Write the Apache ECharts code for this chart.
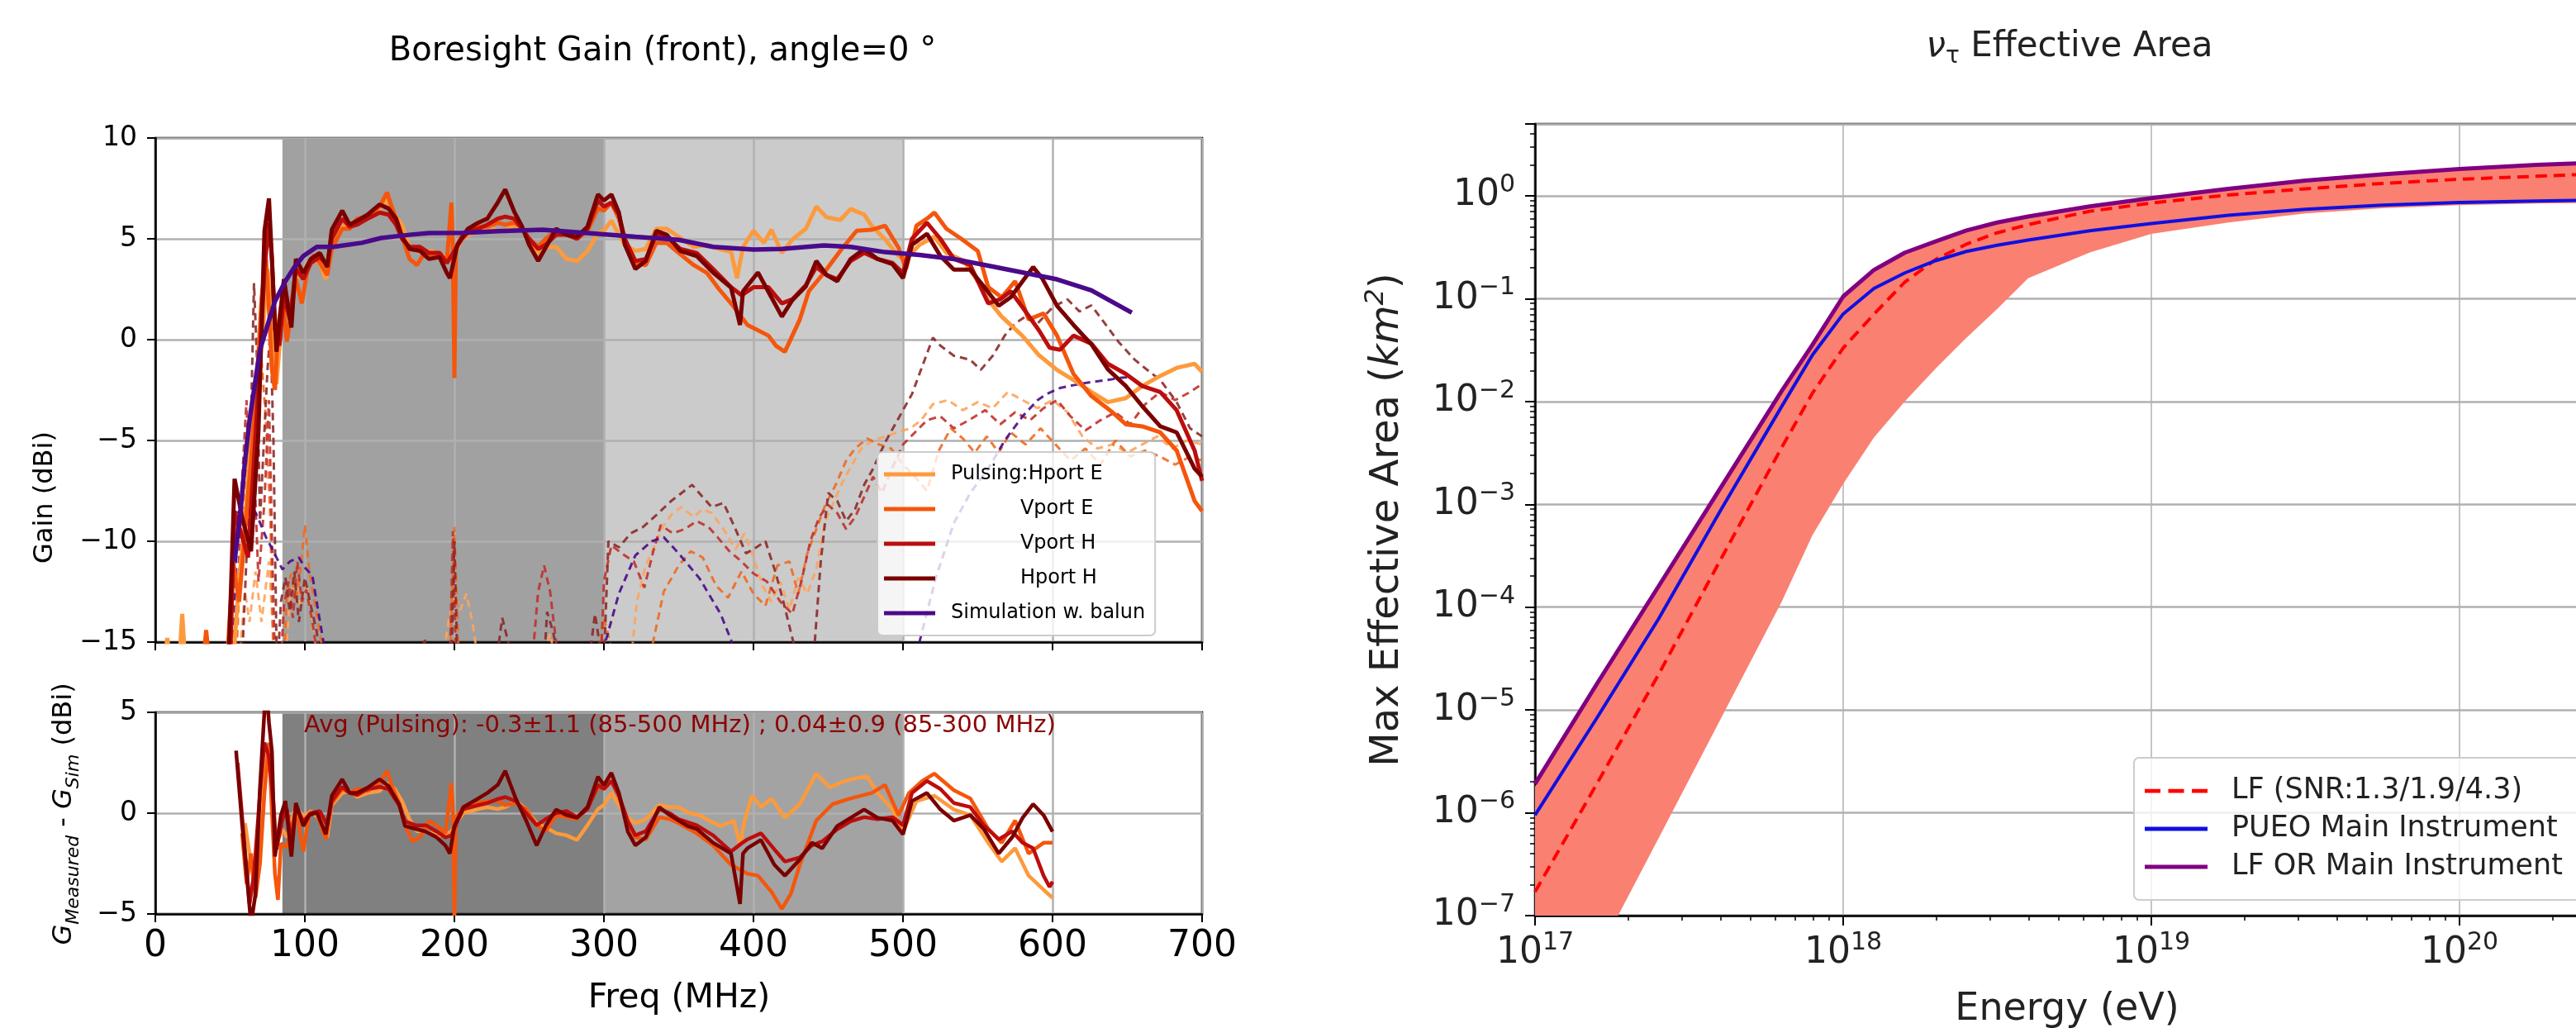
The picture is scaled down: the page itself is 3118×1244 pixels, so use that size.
<!DOCTYPE html>
<html lang="en">
<head>
<meta charset="UTF-8">
<title>Boresight gain / effective area</title>
<script src="https://cdn.jsdelivr.net/npm/echarts@6.0.0/dist/echarts.min.js"></script>
<style>
    html, body { margin: 0; padding: 0; background: #fff; }
    #main { width: 3118px; height: 1244px; }
</style>
</head>
<body>
<div id="main"></div>
<script>
// ---------- left figure: boresight gain, points are [freq MHz, gain dBi] ----------
var hportE = [[6,-16],[8,-14.8],[10,-16],[16,-16],[18,-13.6],[20,-16],[52,-16],[56,-12],[60,-9],[64,-5],[68,-2.5],[72,0.5],[75,3.5],[77,2.0],[79,-0.5],[81,-2.2],[84,0.5],[87,1.5],[90,1.0],[94,3.0],[99,3.4],[104,4.0],[110,3.8],[114,3.0],[118,4.6],[125,5.6],[130,5.6],[135,5.8],[142,6.0],[150,6.5],[156,6.9],[160,6.2],[165,5.7],[170,4.6],[175,4.4],[180,4.3],[185,4.4],[190,4.2],[195,4.1],[200,4.2],[205,5.0],[210,5.2],[216,5.4],[222,5.6],[229,5.4],[234,5.4],[240,5.7],[245,5.5],[250,4.9],[256,4.3],[261,4.6],[268,4.6],[275,4.0],[282,3.9],[289,4.4],[296,5.3],[300,5.4],[305,5.9],[310,5.2],[314,4.7],[321,4.4],[328,4.5],[335,5.5],[342,5.5],[350,5.1],[360,4.6],[369,4.7],[377,4.5],[385,4.36],[389,3.05],[393,4.6],[400,5.4],[407,4.8],[412,5.45],[419,4.3],[426,4.97],[435,5.5],[442,6.6],[449,6.07],[458,5.93],[465,6.48],[474,6.2],[479,5.65],[488,4.97],[497,4.15],[502,4.0],[511,4.7],[521,5.1],[529,4.3],[541,3.9],[550,2.9],[557,1.96],[566,1.14],[580,0.18],[591,-0.78],[603,-1.5],[614,-2.0],[626,-2.6],[637,-3.1],[649,-2.9],[660,-2.3],[672,-1.8],[683,-1.4],[695,-1.2],[700,-1.6]];
var vportE = [[32,-16],[34,-14.4],[36,-16],[48,-16],[52,-11],[56,-13],[60,-9.5],[64,-6],[68,-2],[71,2],[74,4],[76,1.5],[78,-1.5],[80,-2.5],[82,0.5],[85,2.2],[88,-0.1],[91,1.5],[94,3.0],[98,1.8],[102,3.6],[106,4.2],[110,3.8],[115,3.2],[118,4.5],[125,5.5],[130,5.5],[135,6.0],[142,6.1],[150,6.6],[155,7.3],[158,6.6],[162,5.8],[166,4.9],[170,4.0],[175,3.7],[180,4.3],[185,4.2],[190,4.3],[195,3.9],[198,6.8],[199,4.5],[200,-1.9],[201,4.5],[205,5.2],[210,5.5],[216,5.6],[222,5.6],[229,5.8],[234,5.7],[240,5.8],[245,5.6],[250,5.0],[256,4.6],[261,5.0],[268,5.4],[275,5.3],[282,5.0],[289,5.4],[296,6.5],[300,6.4],[305,6.8],[310,6.0],[314,4.9],[321,3.8],[328,3.7],[335,4.8],[342,4.8],[350,4.3],[360,3.7],[369,3.3],[377,2.5],[385,1.8],[396,0.73],[410,0.2],[415,-0.3],[421,-0.6],[426,0.2],[431,1.0],[437,2.4],[447,3.3],[458,4.4],[469,5.4],[479,5.45],[488,5.65],[497,4.56],[502,3.5],[509,5.65],[516,6.0],[521,6.3],[529,5.5],[539,5.0],[550,4.4],[557,2.6],[566,2.1],[575,2.9],[584,1.0],[594,1.3],[603,0.2],[614,-1.7],[626,-2.8],[640,-3.6],[649,-4.2],[660,-4.3],[672,-4.6],[683,-5.5],[695,-8.0],[700,-8.5]];
var vportH = [[50,-16],[53,-8.5],[57,-9.5],[62,-10.8],[66,-6],[70,-1],[73,3.5],[76,5.8],[78,4.0],[80,0.5],[83,-0.3],[86,2.2],[90,1.0],[94,3.5],[99,3.0],[104,3.8],[110,4.1],[115,3.7],[118,5.0],[125,6.0],[130,5.6],[135,5.7],[142,6.0],[150,6.3],[156,6.2],[161,5.7],[165,5.0],[170,4.6],[177,4.6],[183,4.3],[190,4.3],[195,3.8],[200,4.4],[205,5.0],[210,5.4],[216,5.5],[222,5.7],[229,6.0],[234,6.1],[240,6.0],[245,5.5],[250,5.0],[256,4.5],[261,4.7],[268,5.2],[275,5.2],[282,5.0],[289,5.5],[296,6.9],[300,6.6],[305,6.8],[310,6.2],[314,5.0],[321,3.9],[328,4.0],[335,5.2],[342,5.1],[351,4.5],[362,4.3],[373,3.5],[385,2.6],[392,2.2],[400,2.6],[410,2.6],[419,1.8],[426,2.0],[435,2.7],[442,3.6],[449,3.2],[456,3.0],[465,3.9],[474,4.3],[483,4.0],[493,3.8],[500,3.3],[506,5.0],[516,5.8],[525,5.0],[534,4.0],[545,3.7],[557,1.8],[565,2.0],[572,2.4],[580,1.6],[591,0.45],[598,-0.4],[605,-0.5],[614,0.2],[626,-0.2],[637,-1.2],[649,-1.7],[660,-2.3],[672,-2.6],[683,-3.5],[695,-5.5],[700,-7.0]];
var hportH = [[49,-16],[53,-6.9],[58,-8.8],[64,-10.5],[69,-4.5],[73,5.4],[76,7.0],[79,2.4],[81,-0.6],[86,3.0],[91,0.6],[94,4.0],[99,3.3],[104,4.0],[110,4.3],[115,3.6],[118,5.45],[125,6.4],[130,5.7],[135,5.9],[142,6.2],[150,6.7],[156,6.5],[161,6.0],[165,5.1],[170,4.5],[177,4.4],[183,4.0],[190,4.1],[195,3.3],[197,3.05],[202,4.7],[209,5.5],[216,5.8],[222,6.0],[229,6.8],[234,7.45],[240,6.35],[245,5.65],[250,4.7],[256,3.9],[261,4.56],[268,5.5],[275,5.2],[282,5.1],[289,5.6],[296,7.2],[300,6.9],[305,7.2],[310,6.3],[314,4.7],[321,3.5],[328,3.9],[335,5.4],[342,5.2],[351,4.4],[362,4.15],[373,3.33],[385,2.58],[391,0.73],[393,2.4],[403,3.33],[412,2.1],[419,1.14],[426,1.96],[435,2.64],[442,3.9],[449,3.2],[456,2.9],[465,4.0],[474,4.5],[483,4.0],[493,3.74],[500,3.05],[506,4.7],[516,5.25],[525,4.15],[534,3.47],[545,3.47],[554,2.64],[564,1.68],[572,2.1],[580,2.9],[587,3.6],[593,3.05],[603,1.68],[614,0.73],[626,-0.23],[637,-1.47],[649,-2.3],[660,-3.3],[672,-4.3],[683,-4.6],[695,-6.4],[700,-6.8]];
var simBalun = [[53,-11],[57,-8.5],[60,-6],[63,-4],[66,-2.5],[70,-0.5],[75,0.7],[80,1.9],[87,2.9],[93,3.6],[99,4.15],[108,4.6],[119,4.6],[138,4.8],[151,5.04],[170,5.2],[183,5.29],[206,5.3],[229,5.38],[259,5.45],[287,5.3],[321,5.1],[350,4.95],[373,4.6],[400,4.47],[419,4.5],[447,4.67],[465,4.6],[488,4.34],[511,4.2],[534,4.0],[557,3.67],[580,3.33],[603,2.99],[626,2.44],[653,1.34]];

// cross-pol (dashed) traces
var xHportE = [[56,-16],[60,-12.5],[63,-14],[67,-11.5],[71,-14],[76,-11],[80,-16],[87,-16],[90,-12.8],[94,-11.8],[97,-13.2],[101,-12],[105,-14.2],[109,-16],[192,-16],[196,-14],[200,-12.6],[204,-13.4],[208,-12.6],[212,-14],[216,-16],[258,-16],[264,-14.6],[268,-16],[318,-16],[322,-13],[328,-11.2],[334,-10.2],[340,-9.2],[346,-8.6],[352,-8.3],[360,-8.8],[366,-8.4],[372,-8.6],[380,-9.4],[388,-10.4],[394,-9.6],[400,-10.8],[406,-12.2],[412,-13.0],[418,-12.0],[424,-13.4],[430,-11.8],[436,-12.6],[442,-11.4],[448,-9.0],[454,-8.0],[460,-7.0],[466,-6.2],[472,-5.4],[480,-5.0],[488,-4.8],[496,-4.6],[505,-4.4],[512,-4.0],[520,-3.2],[530,-3.0],[540,-3.5],[550,-3.1],[560,-3.4],[570,-2.6],[580,-3.0],[590,-3.4],[600,-3.0],[610,-3.6],[620,-4.8],[630,-5.4],[640,-5.2],[650,-5.6],[660,-5.2],[670,-4.8],[680,-5.4],[690,-5.0],[700,-5.2]];
var xVportE = [[54,-16],[57,-11],[60,-7],[63,-4],[65,-10],[68,-5],[71,-1],[74,-4],[77,-9],[79,-16],[86,-16],[88,-12.5],[91,-11.6],[94,-13],[97,-11.5],[100,-9.2],[103,-11.5],[106,-12.8],[110,-14.5],[113,-16],[197,-16],[200,-9.3],[203,-16],[296,-16],[300,-13.8],[304,-15],[306,-16],[330,-16],[340,-12.5],[350,-11.2],[358,-10.5],[366,-10.8],[375,-12.2],[383,-12.8],[392,-11.5],[400,-12.6],[408,-13.2],[416,-11.2],[424,-11.0],[430,-12.6],[436,-10.6],[442,-9.4],[448,-8.2],[455,-7.2],[462,-6.0],[468,-5.4],[476,-4.9],[484,-5.2],[492,-5.4],[500,-6.2],[508,-6.8],[516,-7.5],[524,-5.5],[532,-4.4],[540,-4.9],[548,-5.6],[556,-4.8],[564,-5.6],[572,-4.6],[582,-5.2],[592,-4.4],[602,-5.2],[612,-6.0],[622,-5.4],[632,-6.2],[642,-5.0],[652,-5.8],[662,-5.5],[672,-5.8],[682,-6.2],[692,-5.8],[700,-6.0]];
var xVportH = [[52,-16],[55,-13],[58,-7],[61,-3],[63,-9],[66,-6],[69,-12],[73,-8],[76,-3],[78,-10],[80,-16],[84,-16],[86,-13.2],[89,-12],[92,-13.8],[95,-11],[98,-13],[101,-12.4],[105,-14],[109,-16],[197,-16],[199,-9.5],[201,-16],[252,-16],[256,-12.5],[260,-11.2],[264,-12.5],[268,-15],[270,-16],[298,-16],[300,-12],[305,-10.2],[312,-10.6],[320,-11.0],[327,-12.3],[333,-10.5],[338,-9.2],[346,-9.6],[354,-9.4],[362,-9.0],[370,-9.3],[376,-9.8],[384,-10.5],[392,-11.0],[400,-11.6],[409,-12.0],[418,-13.0],[426,-13.6],[432,-12.0],[438,-10.0],[444,-8.8],[450,-8.2],[456,-8.6],[462,-9.4],[468,-8.8],[474,-7.8],[480,-6.8],[486,-7.6],[492,-6.5],[500,-5.2],[508,-4.6],[516,-4.0],[525,-3.8],[534,-4.4],[544,-4.0],[555,-3.5],[565,-4.2],[575,-3.6],[585,-4.0],[594,-3.4],[603,-3.0],[612,-3.8],[622,-4.5],[632,-4.0],[642,-3.6],[652,-4.2],[662,-3.2],[672,-2.6],[682,-3.0],[692,-2.6],[700,-2.2]];
var xHportH = [[58,-16],[62,-9],[64,-4],[66,2.8],[68,-1],[70,-9],[72,-6],[75,-1.5],[77,0.5],[79,-5],[81,-15],[82,-16],[84,-13],[87,-11.8],[90,-13.5],[93,-11.5],[96,-14],[100,-11.8],[104,-13.2],[108,-14.5],[110,-16],[178,-16],[180,-14.8],[182,-16],[198,-16],[200,-10],[202,-16],[228,-16],[232,-13.8],[236,-15],[240,-16],[260,-16],[262,-13.5],[266,-14.5],[270,-16],[290,-16],[294,-13.6],[298,-15.5],[300,-16],[303,-10],[310,-10.3],[318,-9.6],[326,-9.3],[335,-8.7],[345,-8.0],[352,-7.6],[359,-7.2],[366,-7.8],[372,-8.3],[380,-8.1],[388,-9.4],[395,-10.6],[402,-10.3],[408,-10.0],[415,-11.6],[420,-13],[425,-14.5],[430,-16],[440,-16],[445,-11],[450,-7.6],[456,-8.0],[462,-9.0],[468,-8.4],[474,-7.2],[480,-6.4],[488,-5.1],[497,-3.9],[506,-2.7],[513,-1.3],[520,0.1],[525,-0.3],[534,-0.8],[545,-1.0],[552,-1.5],[560,-0.8],[568,0.2],[575,0.8],[583,1.2],[590,0.8],[600,1.6],[610,2.0],[618,1.4],[626,1.7],[635,0.8],[644,-0.1],[655,-1.0],[665,-1.6],[672,-2.0],[683,-3.1],[692,-4.4],[700,-4.8]];
var xSimBalun = [[52,-16],[55,-8.6],[60,-8.2],[64,-8.1],[69,-8.9],[74,-9.8],[79,-10.5],[85,-11.4],[90,-11.0],[96,-10.8],[100,-11.3],[105,-11.7],[109,-13.5],[112,-14.8],[114,-16],[298,-16],[301,-15],[310,-12.6],[321,-10.7],[332,-10.0],[340,-9.8],[350,-10.6],[364,-11.85],[378,-13.6],[385,-14.9],[388,-16],[508,-16],[511,-15],[522,-11.8],[534,-9.1],[545,-7.6],[557,-6.4],[568,-5.0],[580,-3.8],[590,-3.0],[596,-2.7],[605,-2.4],[614,-2.26],[626,-2.1],[637,-2.0],[645,-1.9],[653,-1.85]];

// lower panel: G_measured - G_sim
var dHportE = [[60,-0.5],[63,-2],[66,-3.5],[69,-1.5],[72,1.5],[75,3.0],[77,2],[79,-0.5],[81,-1.5],[85,-0.8],[88,-1.2],[91,-0.4],[94,0.3],[99,-0.2],[104,0.1],[110,-0.3],[115,-1.2],[118,0.4],[125,1.0],[130,1.1],[135,0.8],[142,1.0],[150,1.1],[156,1.5],[160,1.2],[165,0.6],[170,-0.3],[175,-0.9],[181,-0.9],[188,-1.1],[194,-1.1],[198,-0.9],[202,-0.4],[206,0.0],[216,0.2],[222,0.3],[229,0.2],[234,0.3],[241,0.6],[248,0.2],[255,-0.5],[261,-0.7],[268,-1.0],[275,-1.1],[282,-1.33],[289,-0.6],[296,0.2],[300,0.4],[305,1.0],[310,0.4],[316,-0.2],[321,-0.5],[328,-0.3],[337,0.4],[344,0.3],[350,0.3],[357,0.0],[364,-0.1],[371,-0.4],[378,-0.64],[387,-0.37],[391,-1.6],[394,-0.4],[399,0.86],[405,0.3],[412,0.73],[421,-0.23],[431,0.45],[442,1.96],[451,1.27],[458,1.5],[465,1.68],[476,1.82],[483,1.0],[493,0.18],[500,-0.92],[509,0.6],[521,0.86],[534,0.18],[545,-0.1],[557,-1.47],[566,-2.4],[575,-1.74],[584,-3.1],[594,-3.8],[600,-4.2]];
var dVportE = [[58,-1],[61,-3.5],[64,-2],[67,-4.2],[70,-2.5],[73,1],[76,3.5],[78,0],[80,-3.0],[82,-4.3],[84,-1.5],[88,-1.7],[91,-0.8],[94,0.2],[99,-1.9],[103,0.0],[108,0.0],[114,-1.3],[118,0.5],[125,1.2],[130,1.0],[135,1.2],[142,1.1],[150,1.5],[155,2.1],[158,1.4],[163,0.5],[167,-0.6],[172,-1.4],[177,-1.2],[183,-0.4],[188,-0.6],[194,-1.0],[198,1.5],[199,0.3],[200,-5.5],[201,-0.2],[206,0.3],[216,0.5],[222,0.6],[229,0.6],[234,0.4],[241,0.5],[248,0.2],[255,-0.6],[261,-0.9],[268,-0.1],[275,-0.2],[282,-0.3],[289,0.3],[296,1.3],[300,1.2],[305,1.6],[310,0.8],[316,-0.5],[321,-1.2],[328,-1.3],[337,-0.2],[344,-0.3],[350,-0.5],[362,-1.0],[373,-1.6],[385,-2.56],[396,-3.0],[403,-3.1],[412,-3.9],[419,-4.75],[425,-4.0],[431,-2.56],[442,-0.37],[453,0.45],[465,0.73],[479,1.0],[488,1.4],[497,-0.1],[504,1.0],[513,1.6],[521,1.96],[534,1.14],[545,0.73],[557,-0.78],[566,-1.47],[575,-0.37],[584,-2.0],[594,-1.47],[600,-1.47]];
var dVportH = [[55,2.5],[59,-1],[63,-4.5],[66,-3],[70,1],[73,3.5],[76,2.8],[79,0.5],[81,-1.8],[85,-0.3],[88,0.2],[91,-1.5],[94,0.3],[99,-0.4],[104,0.0],[110,0.1],[115,-0.6],[118,0.6],[125,1.3],[130,1.0],[135,0.9],[142,1.2],[150,1.3],[156,1.2],[163,0.4],[167,-0.4],[174,-0.6],[181,-0.6],[188,-0.9],[194,-1.2],[198,-1.1],[202,-0.4],[206,0.2],[216,0.4],[222,0.5],[229,0.7],[234,0.8],[241,0.6],[248,0.0],[255,-0.6],[261,-0.3],[268,0.0],[275,0.1],[282,-0.2],[289,0.2],[296,1.4],[300,1.2],[305,1.6],[310,0.9],[316,-0.4],[321,-1.1],[328,-0.9],[337,0.2],[344,0.0],[350,-0.3],[362,-0.6],[373,-1.1],[385,-1.9],[392,-1.5],[396,-1.3],[405,-1.0],[414,-1.8],[421,-2.4],[431,-2.2],[439,-1.6],[446,-1.4],[456,-0.8],[465,-0.4],[474,-0.2],[483,-0.3],[493,-0.2],[500,-0.6],[506,1.0],[516,1.6],[525,1.2],[534,0.5],[545,0.3],[554,-0.6],[564,-1.3],[573,-0.9],[580,-1.47],[587,-1.74],[594,-3.1],[598,-3.66],[600,-3.4]];
var dHportH = [[54,3.1],[58,-0.5],[62,-3.8],[64,-5.5],[67,-4],[70,1.3],[73,5.1],[75,5.5],[76,4.5],[78,3.05],[80,-2.15],[84,-0.1],[87,0.6],[91,-2.15],[94,0.5],[99,-0.64],[103,-0.1],[108,0.04],[114,-1.05],[118,0.86],[125,1.68],[130,1.0],[135,1.0],[142,1.27],[150,1.68],[156,1.34],[163,0.45],[167,-0.64],[174,-0.78],[181,-0.92],[188,-1.19],[194,-1.6],[197,-2.0],[200,-0.64],[206,0.3],[216,0.73],[222,1.0],[229,1.4],[234,2.1],[241,0.73],[248,-0.37],[255,-1.6],[261,-0.64],[268,0.18],[275,-0.1],[282,-0.23],[289,0.3],[296,1.8],[300,1.4],[305,2.0],[310,1.0],[316,-0.92],[321,-1.6],[328,-1.2],[337,0.3],[344,-0.1],[350,-0.37],[356,-0.64],[362,-0.78],[373,-1.47],[385,-2.0],[391,-4.5],[393,-2.0],[396,-1.74],[405,-1.33],[414,-2.56],[421,-3.1],[431,-2.3],[439,-1.47],[446,-1.74],[456,-0.64],[465,-0.23],[474,0.18],[483,-0.23],[493,-0.37],[500,-1.05],[506,0.6],[516,1.0],[525,0.18],[534,-0.37],[545,-0.1],[554,-0.78],[564,-2.0],[573,-1.2],[580,-0.23],[587,0.45],[594,-0.1],[600,-0.92]];

var bandsMHz = [[85, 300], [300, 500]];
var legendLeft = ['Pulsing:Hport E', '           Vport E', '           Vport H', '           Hport H', 'Simulation w. balun'];

// ---------- right figure: nu_tau effective area (eV, km^2) ----------
var energyEV = [1e17, 1.585e17, 2.512e17, 3.981e17, 6.31e17, 7.943e17, 1e18, 1.259e18, 1.585e18, 1.995e18, 2.512e18, 3.162e18, 3.981e18, 6.31e18, 1e19, 1.778e19, 3.162e19, 5.623e19, 1e20, 1.778e20, 3.162e20, 5.623e20, 1e21];
var lfOrMain = [1.91e-6, 1.78e-5, 1.58e-4, 1.41e-3, 1.26e-2, 3.55e-2, 0.105, 0.19, 0.28, 0.36, 0.46, 0.55, 0.63, 0.79, 0.95, 1.17, 1.41, 1.62, 1.82, 2.0, 2.14, 2.29, 2.4];
var pueoMain = [9.5e-7, 8.3e-6, 7.6e-5, 8.5e-4, 8.9e-3, 2.82e-2, 7.1e-2, 0.126, 0.178, 0.234, 0.288, 0.331, 0.372, 0.457, 0.537, 0.646, 0.741, 0.813, 0.861, 0.891, 0.912, 0.923, 0.933];
var lfSnr19 = [1.7e-7, 1.9e-6, 2.19e-5, 2.82e-4, 3.55e-3, 1.2e-2, 3.31e-2, 7.08e-2, 0.145, 0.24, 0.339, 0.437, 0.525, 0.708, 0.851, 1.02, 1.17, 1.32, 1.45, 1.55, 1.66, 1.74, 1.82];
var lfSnr13 = [1.8e-6, 1.7e-5, 1.5e-4, 1.35e-3, 1.2e-2, 3.4e-2, 0.1, 0.18, 0.27, 0.35, 0.45, 0.53, 0.61, 0.77, 0.93, 1.14, 1.38, 1.58, 1.78, 1.95, 2.1, 2.24, 2.35];
var lfSnr43 = [3.2e-9, 4.0e-8, 5.6e-7, 7.9e-6, 1.12e-4, 5.0e-4, 1.58e-3, 4.47e-3, 1.0e-2, 2.09e-2, 4.17e-2, 7.94e-2, 0.158, 0.282, 0.427, 0.55, 0.676, 0.759, 0.813, 0.841, 0.861, 0.871, 0.881];
var legendRight = ['LF (SNR:1.3/1.9/4.3)', 'PUEO Main Instrument', 'LF OR Main Instrument'];

var FONT = 'DejaVu Sans';
var DASH_ICON = 'path://M0,0h4v1h-4zM6,0h4v1h-4zM12,0h4v1h-4z';

// minor tick positions for the log axes (drawn on overlay axes in log10 space)
var minorX = [], minorY = [];
for (var n = 17; n < 21; n++) for (var k = 2; k <= 9; k++) minorX.push(n + Math.log10(k));
for (var m = -7; m <= 0; m++) for (var j = 2; j <= 9; j++) if (m + Math.log10(j) <= Math.log10(5)) minorY.push(m + Math.log10(j));

function minus(v) { return String(v).replace('-', '\u2212'); }

function gainLine(name, data, color, width, axis, dashed) {
    return {
        name: name, type: 'line', xAxisIndex: axis, yAxisIndex: axis, data: data,
        symbol: 'none', showSymbol: false, clip: true, silent: true, z: dashed ? 2 : 3,
        lineStyle: {color: color, width: width, type: dashed ? [9, 6] : 'solid', opacity: dashed ? 0.9 : 1},
        itemStyle: {color: color}
    };
}

function shading(axis, colors) {
    return {
        type: 'line', xAxisIndex: axis, yAxisIndex: axis, data: [], z: 0, silent: true,
        markArea: {
            silent: true, z: 0,
            data: bandsMHz.map(function (b, i) {
                return [{xAxis: b[0], itemStyle: {color: colors[i], opacity: 1}}, {xAxis: b[1]}];
            })
        }
    };
}

function pow10Label(v) {
    var e = Math.log10(v);
    if (Math.abs(e - Math.round(e)) > 1e-6) return '';
    return '{b|10}{s|' + minus(Math.round(e)) + '}';
}

var tickRich = {
    b: {fontSize: 44, fontFamily: FONT, color: '#222', lineHeight: 56},
    s: {fontSize: 30, fontFamily: FONT, color: '#222', lineHeight: 26, verticalAlign: 'top'}
};

var baseX = {
    type: 'value', min: 0, max: 700, interval: 100, z: 1,
    axisLine: {onZero: false, lineStyle: {color: '#000', width: 2.5}},
    axisTick: {inside: false, length: 10, lineStyle: {color: '#000', width: 2}},
    splitLine: {show: true, lineStyle: {color: '#b0b0b0', width: 2.5}}
};

var series = [
    shading(0, ['#a1a1a1', '#cbcbcb']),
    shading(1, ['#808080', '#a3a3a3']),
    gainLine('x Hport E', xHportE, '#fda45c', 3, 0, true),
    gainLine('x Vport E', xVportE, '#ee6a22', 3, 0, true),
    gainLine('x Vport H', xVportH, '#c0322c', 3, 0, true),
    gainLine('x Hport H', xHportH, '#8c2a2a', 3, 0, true),
    gainLine('x Sim', xSimBalun, '#4a0a8a', 3, 0, true),
    gainLine(legendLeft[0], hportE, '#fd9a3c', 5, 0),
    gainLine(legendLeft[1], vportE, '#f4560c', 5, 0),
    gainLine(legendLeft[2], vportH, '#bd0d0d', 5, 0),
    gainLine(legendLeft[3], hportH, '#7a0000', 5, 0),
    gainLine(legendLeft[4], simBalun, '#4a0a8a', 5.5, 0),
    gainLine('d Hport E', dHportE, '#fd9a3c', 4.5, 1),
    gainLine('d Vport E', dVportE, '#f4560c', 4.5, 1),
    gainLine('d Vport H', dVportH, '#bd0d0d', 4.5, 1),
    gainLine('d Hport H', dHportH, '#7a0000', 4.5, 1),
    {
        // shaded LF band between SNR 1.3 and SNR 4.3
        type: 'custom', xAxisIndex: 2, yAxisIndex: 2, z: 2, silent: true, clip: true,
        data: energyEV.map(function (e, i) { return [e, lfSnr13[i], lfSnr43[i]]; }),
        renderItem: function (params, api) {
            if (params.dataIndex !== 0) return;
            var pts = [], i;
            for (i = 0; i < energyEV.length; i++) pts.push(api.coord([energyEV[i], lfSnr13[i]]));
            for (i = energyEV.length - 1; i >= 0; i--) pts.push(api.coord([energyEV[i], lfSnr43[i]]));
            return {type: 'polygon', shape: {points: pts}, style: {fill: '#fa8072'}};
        }
    },
    {
        name: legendRight[0], type: 'line', xAxisIndex: 2, yAxisIndex: 2, symbol: 'none', silent: true, clip: true, z: 3,
        data: energyEV.map(function (e, i) { return [e, lfSnr19[i]]; }),
        lineStyle: {color: '#ff0000', width: 4, type: [14, 8]}, itemStyle: {color: '#ff0000'}
    },
    {
        name: legendRight[1], type: 'line', xAxisIndex: 2, yAxisIndex: 2, symbol: 'none', silent: true, clip: true, z: 3,
        data: energyEV.map(function (e, i) { return [e, pueoMain[i]]; }),
        lineStyle: {color: '#1010e0', width: 4}, itemStyle: {color: '#1010e0'}
    },
    {
        name: legendRight[2], type: 'line', xAxisIndex: 2, yAxisIndex: 2, symbol: 'none', silent: true, clip: true, z: 3,
        data: energyEV.map(function (e, i) { return [e, lfOrMain[i]]; }),
        lineStyle: {color: '#800080', width: 5}, itemStyle: {color: '#800080'}
    }
];

var option = {
    animation: false,
    backgroundColor: '#fff',
    textStyle: {fontFamily: FONT},
    grid: [
        {left: 188, top: 167, width: 1267, height: 610, show: true, borderColor: '#000', borderWidth: 2.5, z: 1, outerBoundsMode: 'none'},
        {left: 188, top: 862, width: 1267, height: 244, show: true, borderColor: '#000', borderWidth: 2.5, z: 1, outerBoundsMode: 'none'},
        {left: 1858, top: 150, width: 1492, height: 958, show: true, borderColor: '#000', borderWidth: 2.5, z: 1, outerBoundsMode: 'none'}
    ],
    xAxis: [
        Object.assign({}, baseX, {gridIndex: 0, axisLabel: {show: false}}),
        Object.assign({}, baseX, {gridIndex: 1, axisLabel: {fontSize: 44, fontFamily: FONT, color: '#000', margin: 18}}),
        {
            type: 'log', logBase: 10, gridIndex: 2, min: 1e17, max: 1e21, position: 'bottom', z: 1,
            axisLine: {onZero: false, lineStyle: {color: '#000', width: 2.5}},
            axisTick: {inside: false, length: 12, lineStyle: {color: '#000', width: 2}},
            axisLabel: {formatter: pow10Label, rich: tickRich, margin: 18},
            splitLine: {show: true, lineStyle: {color: '#b0b0b0', width: 1.5}}
        },
        {
            type: 'value', gridIndex: 2, min: 17, max: 21, position: 'bottom', z: 1,
            axisLine: {show: false, onZero: false}, axisLabel: {show: false}, splitLine: {show: false},
            axisTick: {show: true, inside: false, length: 6, customValues: minorX, lineStyle: {color: '#000', width: 1.5}}
        }
    ],
    yAxis: [
        {
            type: 'value', gridIndex: 0, min: -15, max: 10, interval: 5, z: 1,
            axisLine: {show: true, onZero: false, lineStyle: {color: '#000', width: 2.5}},
            axisTick: {show: true, inside: false, length: 10, lineStyle: {color: '#000', width: 2}},
            axisLabel: {fontSize: 33, fontFamily: FONT, color: '#000', margin: 22, formatter: minus},
            splitLine: {show: true, lineStyle: {color: '#b0b0b0', width: 2.5}}
        },
        {
            type: 'value', gridIndex: 1, min: -5, max: 5, interval: 5, z: 1,
            axisLine: {show: true, onZero: false, lineStyle: {color: '#000', width: 2.5}},
            axisTick: {show: true, inside: false, length: 10, lineStyle: {color: '#000', width: 2}},
            axisLabel: {fontSize: 33, fontFamily: FONT, color: '#000', margin: 22, formatter: minus},
            splitLine: {show: true, lineStyle: {color: '#b0b0b0', width: 2.5}}
        },
        {
            type: 'log', logBase: 10, gridIndex: 2, min: 1e-7, max: 5, z: 1,
            axisLine: {show: true, onZero: false, lineStyle: {color: '#000', width: 2.5}},
            axisTick: {show: true, inside: false, length: 12, lineStyle: {color: '#000', width: 2}},
            axisLabel: {formatter: pow10Label, rich: tickRich, margin: 24},
            splitLine: {show: true, lineStyle: {color: '#b0b0b0', width: 2.5}}
        },
        {
            type: 'value', gridIndex: 2, min: -7, max: Math.log10(5), position: 'left', z: 1,
            axisLine: {show: false, onZero: false}, axisLabel: {show: false}, splitLine: {show: false},
            axisTick: {show: true, inside: false, length: 6, customValues: minorY, lineStyle: {color: '#000', width: 1.5}}
        }
    ],
    legend: [
        {
            data: legendLeft, left: 1062, top: 547, orient: 'vertical', icon: 'rect',
            itemWidth: 62, itemHeight: 5, itemGap: 12, padding: [12, 12, 12, 8],
            backgroundColor: 'rgba(255,255,255,0.8)', borderColor: '#cccccc', borderWidth: 2, borderRadius: 6,
            textStyle: {fontSize: 24, fontFamily: FONT, color: '#000', lineHeight: 30, padding: [0, 0, 0, 14]}
        },
        {
            data: [
                {name: legendRight[0], icon: DASH_ICON},
                {name: legendRight[1], icon: 'rect'},
                {name: legendRight[2], icon: 'rect'}
            ],
            left: 2583, top: 917, orient: 'vertical',
            itemWidth: 76, itemHeight: 5, itemGap: 2, padding: [18, 20, 18, 13],
            backgroundColor: 'rgba(255,255,255,0.8)', borderColor: '#cccccc', borderWidth: 2, borderRadius: 6,
            textStyle: {fontSize: 35, fontFamily: FONT, color: '#222', lineHeight: 44, padding: [0, 0, 0, 24]}
        }
    ],
    graphic: [
        {
            type: 'text', x: 802, y: 63, silent: true,
            style: {text: 'Boresight Gain (front), angle=0 \u00b0', font: '40px "DejaVu Sans"', fill: '#000', align: 'center', verticalAlign: 'middle'}
        },
        {
            type: 'text', x: 55, y: 602, rotation: Math.PI / 2, silent: true,
            style: {text: 'Gain (dBi)', font: '32px "DejaVu Sans"', fill: '#000', align: 'center', verticalAlign: 'middle'}
        },
        {
            type: 'text', x: 78, y: 985, rotation: Math.PI / 2, silent: true,
            style: {
                text: '{g|G}{sub|Measured}{n| - }{g|G}{sub|Sim}{n| (dBi)}', align: 'center', verticalAlign: 'middle',
                rich: {
                    g: {fontSize: 32, fontFamily: FONT, fontStyle: 'italic', fill: '#000', lineHeight: 44},
                    n: {fontSize: 32, fontFamily: FONT, fill: '#000', lineHeight: 44},
                    sub: {fontSize: 22, fontFamily: FONT, fontStyle: 'italic', fill: '#000', lineHeight: 20, verticalAlign: 'bottom'}
                }
            }
        },
        {
            type: 'text', x: 822, y: 1208, silent: true,
            style: {text: 'Freq (MHz)', font: '41px "DejaVu Sans"', fill: '#000', align: 'center', verticalAlign: 'middle'}
        },
        {
            type: 'text', x: 368, y: 878, silent: true, z: 10,
            style: {text: 'Avg (Pulsing): -0.3\u00b11.1 (85-500 MHz) ; 0.04\u00b10.9 (85-300 MHz)', font: '29px "DejaVu Sans"', fill: '#8b0000', align: 'left', verticalAlign: 'middle'}
        },
        {
            type: 'text', x: 2505, y: 57, silent: true,
            style: {
                text: '{i|\u03bd}{sub|\u03c4}{n| Effective Area}', align: 'center', verticalAlign: 'middle',
                rich: {
                    i: {fontSize: 42, fontFamily: FONT, fontStyle: 'italic', fill: '#222', lineHeight: 52},
                    n: {fontSize: 42, fontFamily: FONT, fill: '#222', lineHeight: 52},
                    sub: {fontSize: 28, fontFamily: FONT, fill: '#222', lineHeight: 22, verticalAlign: 'bottom'}
                }
            }
        },
        {
            type: 'text', x: 1680, y: 629, rotation: Math.PI / 2, silent: true,
            style: {
                text: '{n|Max Effective Area (}{i|km}{sup|2}{n|)}', align: 'center', verticalAlign: 'middle',
                rich: {
                    n: {fontSize: 48, fontFamily: FONT, fill: '#222', lineHeight: 60},
                    i: {fontSize: 48, fontFamily: FONT, fontStyle: 'italic', fill: '#222', lineHeight: 60},
                    sup: {fontSize: 32, fontFamily: FONT, fontStyle: 'italic', fill: '#222', lineHeight: 28, verticalAlign: 'top'}
                }
            }
        },
        {
            type: 'text', x: 2502, y: 1222, silent: true,
            style: {text: 'Energy (eV)', font: '46px "DejaVu Sans"', fill: '#222', align: 'center', verticalAlign: 'middle'}
        }
    ],
    series: series
};

var chart = echarts.init(document.getElementById('main'));
chart.setOption(option);
</script>
</body>
</html>
